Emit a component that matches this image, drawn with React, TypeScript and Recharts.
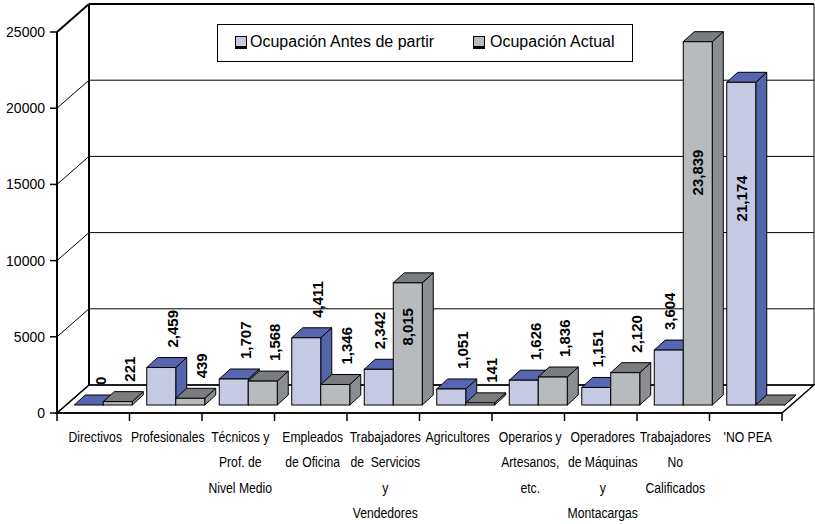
import React from 'react';
import { BarChart, Bar, XAxis, YAxis, CartesianGrid, Legend, LabelList } from 'recharts';

// datos
const categories = [
  'Directivos',
  'Profesionales',
  'Técnicos y Prof. de Nivel Medio',
  'Empleados de Oficina',
  'Trabajadores de Servicios y Vendedores',
  'Agricultores',
  'Operarios y Artesanos, etc.',
  'Operadores de Máquinas y Montacargas',
  'Trabajadores No Calificados',
  "'NO PEA",
];
const tickLabels = [
  ['Directivos'],
  ['Profesionales'],
  ['Técnicos y', 'Prof. de', 'Nivel Medio'],
  ['Empleados', 'de Oficina'],
  ['Trabajadores', 'de  Servicios', 'y', 'Vendedores'],
  ['Agricultores'],
  ['Operarios y', 'Artesanos,', 'etc.'],
  ['Operadores', 'de Máquinas', 'y', 'Montacargas'],
  ['Trabajadores', 'No', 'Calificados'],
  ["'NO PEA"],
];
const antes = [0, 2459, 1707, 4411, 2342, 1051, 1626, 1151, 3604, 21174];
const actual = [221, 439, 1568, 1346, 8015, 141, 1836, 2120, 23839, 0];
// la etiqueta del 0 de 'NO PEA (actual) no aparece en el original
const hiddenActualLabels = ["'NO PEA"];
const yTicks = [0, 5000, 10000, 15000, 20000, 25000];
const seriesNames = ['Ocupación Antes de partir', 'Ocupación Actual'];

const data = categories.map((name, i) => ({ name, antes: antes[i], actual: actual[i] }));

// layout
const W = 815;
const H = 524;
const PLOT_LEFT = 57;
const PLOT_RIGHT = 782;
const PLOT_TOP = 32;
const PLOT_BOTTOM = 413;
const DX = 32; // profundidad de las paredes
const DY = -28;
const BX = 10; // desplazamiento de las barras dentro de la caja
const BY = -8;
const BDX = 11; // profundidad de cada barra
const BDY = -10;

const FONT = "'Liberation Sans', Arial, sans-serif";

const ANTES = { front: '#C5CAE2', top: '#5766B0', side: '#5565AC' };
const ACTUAL = { front: '#B8BBBE', top: '#7A7C7F', side: '#8B8D90' };

const makeBar3D = (c: { front: string; top: string; side: string }) => (props: any) => {
  const { x, y, width, height } = props;
  if (x == null || y == null) return null;
  const fx = x + BX;
  const fy = y + BY;
  const h = Math.max(0, height || 0);
  const w = width;
  return (
    <g>
      <polygon
        points={`${fx + w},${fy} ${fx + w + BDX},${fy + BDY} ${fx + w + BDX},${fy + h + BDY} ${fx + w},${fy + h}`}
        fill={c.side}
        stroke="#000"
        strokeWidth={1}
      />
      <polygon
        points={`${fx},${fy} ${fx + BDX},${fy + BDY} ${fx + w + BDX},${fy + BDY} ${fx + w},${fy}`}
        fill={c.top}
        stroke="#000"
        strokeWidth={1}
      />
      <rect x={fx} y={fy} width={w} height={h} fill={c.front} stroke="#000" strokeWidth={1} />
    </g>
  );
};

const labelText = (cx: number, cy: number, anchor: string, text: string) => (
  <text
    x={cx}
    y={cy}
    transform={`rotate(-90, ${cx}, ${cy})`}
    textAnchor={anchor}
    dominantBaseline="central"
    fontFamily={FONT}
    fontWeight="bold"
    fontSize={15}
    fill="#000"
  >
    {text}
  </text>
);

// neighbour = valor de la otra serie en la misma categoría (solo para la primera serie)
const makeValueLabel = (series: 'antes' | 'actual') => (props: any) => {
  const vb = props.viewBox || props;
  const { x, y, width, height } = vb;
  const idx = props.index;
  const value = Number(props.value);
  if (series === 'actual' && hiddenActualLabels.includes(categories[idx])) return null;
  const text = value.toLocaleString('en-US');
  const fx = x + BX;
  const fy = y + BY;
  if (value > 5000) {
    return labelText(fx + width / 2, fy + height * 0.36, 'middle', text);
  }
  let cx = fx + width - 3;
  if (series === 'antes' && actual[idx] > value * 1.5 && value > 0) {
    cx = fx + width / 2 + 1;
  }
  return labelText(cx, fy - 20, 'start', text);
};

const CategoryTick = (props: any) => {
  const { x, y, payload, index } = props;
  const band = (PLOT_RIGHT - PLOT_LEFT) / categories.length;
  const i = payload?.index ?? index;
  const lines = tickLabels[i] || [];
  return (
    <g>
      {i === 0 && <line x1={x - band / 2} x2={x - band / 2} y1={y} y2={y + 8} stroke="#000" strokeWidth={1.5} />}
      <line x1={x + band / 2} x2={x + band / 2} y1={y} y2={y + 8} stroke="#000" strokeWidth={1.5} />
      <text
        transform={`translate(${x + 2}, 0) scale(0.87, 1)`}
        textAnchor="middle"
        fontFamily={FONT}
        fontSize={14}
        fill="#000"
        style={{ whiteSpace: 'pre' }}
      >
        {lines.map((l, k) => (
          <tspan key={k} x={0} y={y + 29 + k * 25.5}>
            {l}
          </tspan>
        ))}
      </text>
    </g>
  );
};

const renderGridLine = (p: any) => {
  const { x1, y1, x2 } = p;
  const thick = Math.abs(y1 - PLOT_TOP) < 1;
  return (
    <g key={p.key}>
      <line x1={x1} y1={y1} x2={x1 + DX} y2={y1 + DY} stroke="#000" strokeWidth={thick ? 2 : 1} />
      <line x1={x1 + DX} y1={y1 + DY} x2={x2 + DX} y2={y1 + DY} stroke="#000" strokeWidth={thick ? 2 : 1} />
    </g>
  );
};

const LegendMarker = ({ color }: { color: string }) => (
  <span
    style={{
      position: 'absolute',
      width: 10,
      height: 9,
      background: color,
      border: '1px solid #000',
      borderBottomWidth: 3,
      boxSizing: 'content-box',
      top: -7,
    }}
  />
);

const renderLegend = () => (
  <div
    style={{
      position: 'relative',
      boxSizing: 'border-box',
      width: 416,
      height: 38,
      border: '1.5px solid #000',
      background: '#fff',
      fontFamily: FONT,
      fontSize: 16,
      color: '#000',
    }}
  >
    <div style={{ position: 'absolute', left: 17, top: 18 }}>
      <LegendMarker color={ANTES.front} />
    </div>
    <div style={{ position: 'absolute', left: 32, top: 8, whiteSpace: 'nowrap' }}>{seriesNames[0]}</div>
    <div style={{ position: 'absolute', left: 255, top: 18 }}>
      <LegendMarker color={ACTUAL.front} />
    </div>
    <div style={{ position: 'absolute', left: 272, top: 8, whiteSpace: 'nowrap' }}>{seriesNames[1]}</div>
  </div>
);

export default function App() {
  return (
    <div style={{ position: 'absolute', left: 0, top: 0, width: W, height: H, background: '#fff' }}>
      {/* paredes y piso */}
      <svg width={W} height={H} style={{ position: 'absolute', left: 0, top: 0 }}>
        <polygon
          points={`${PLOT_LEFT},${PLOT_BOTTOM} ${PLOT_RIGHT},${PLOT_BOTTOM} ${PLOT_RIGHT + DX},${PLOT_BOTTOM + DY} ${PLOT_LEFT + DX},${PLOT_BOTTOM + DY}`}
          fill="#fff"
          stroke="#000"
          strokeWidth={1.5}
        />
        <line x1={PLOT_LEFT + DX} y1={PLOT_TOP + DY} x2={PLOT_LEFT + DX} y2={PLOT_BOTTOM + DY} stroke="#000" strokeWidth={2} />
        <line x1={PLOT_RIGHT + DX} y1={PLOT_TOP + DY} x2={PLOT_RIGHT + DX} y2={PLOT_BOTTOM + DY} stroke="#000" strokeWidth={1} />
      </svg>
      <BarChart
        width={W}
        height={H}
        data={data}
        margin={{ top: PLOT_TOP, right: W - PLOT_RIGHT, left: 0, bottom: H - PLOT_BOTTOM - 100 }}
        barCategoryGap="10%"
        barGap={0}
      >
        <CartesianGrid vertical={false} horizontal={renderGridLine} />
        <XAxis
          dataKey="name"
          interval={0}
          height={100}
          tickLine={false}
          tickSize={0}
          tickMargin={0}
          axisLine={{ stroke: '#000', strokeWidth: 1.5 }}
          tick={<CategoryTick />}
        />
        <YAxis
          type="number"
          domain={[0, 25000]}
          ticks={yTicks}
          interval={0}
          width={PLOT_LEFT}
          axisLine={{ stroke: '#000', strokeWidth: 2 }}
          tickLine={{ stroke: '#000', strokeWidth: 1.5 }}
          tickSize={7}
          tickMargin={5}
          tick={{ fill: '#000', fontSize: 14, fontFamily: FONT }}
        />
        <Legend
          verticalAlign="middle"
          layout="horizontal"
          content={renderLegend}
          wrapperStyle={{ left: 217, top: 24, width: 416, height: 38 }}
        />
        <Bar dataKey="antes" name={seriesNames[0]} fill={ANTES.front} shape={makeBar3D(ANTES)} isAnimationActive={false}>
          <LabelList dataKey="antes" content={makeValueLabel('antes')} />
        </Bar>
        <Bar dataKey="actual" name={seriesNames[1]} fill={ACTUAL.front} shape={makeBar3D(ACTUAL)} isAnimationActive={false}>
          <LabelList dataKey="actual" content={makeValueLabel('actual')} />
        </Bar>
      </BarChart>
    </div>
  );
}
